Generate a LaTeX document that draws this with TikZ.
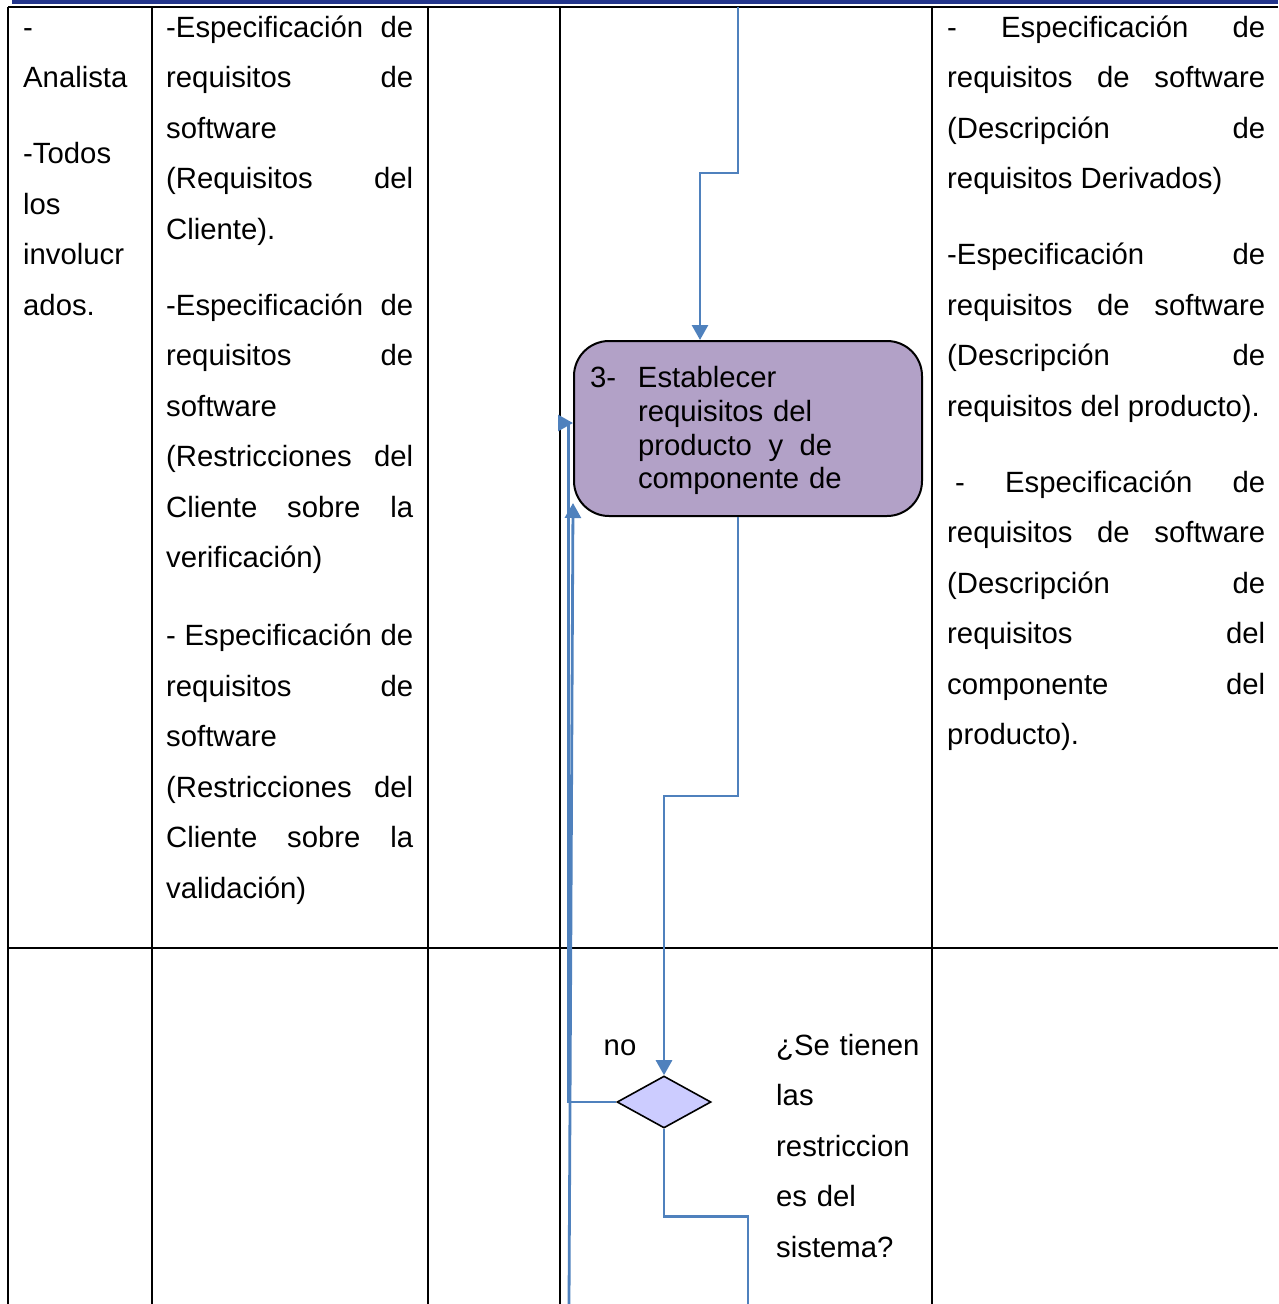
\documentclass[tikz,border=0pt]{standalone}
\usepackage{fontspec}
\setmainfont{Liberation Sans}
\usetikzlibrary{arrows.meta,shapes}

\definecolor{flowblue}{RGB}{79,129,189}
\definecolor{actfill}{RGB}{178,161,199}
\definecolor{decfill}{RGB}{204,204,255}
\definecolor{bandblue}{RGB}{36,54,140}

\newcommand\cellstart{\setlength{\parskip}{25.5pt}\setlength{\parindent}{0pt}\tolerance=10000\hbadness=10000\rule{0pt}{24pt}}

\begin{document}
\begin{tikzpicture}[x=1pt,y=-1pt,
			grid line/.style={draw=black,line width=2pt},
			flow line/.style={draw=flowblue,line width=2.8pt},
			flow arrow/.style={flow line,-{Triangle[width=16pt,length=15pt]}},
			cell text/.style={anchor=north west,inner sep=0pt,align=justify,font=\fontsize{29.3}{50.5}\selectfont},
			plain text/.style={inner sep=0pt,font=\fontsize{29.3}{50.5}\selectfont},
			activity node/.style={rectangle,rounded corners=35pt,draw,line width=2pt,fill=actfill,minimum width=348pt,minimum height=175pt,text width=316pt,inner xsep=16pt,align=left,font=\fontsize{29.3}{33.7}\selectfont},
			decision node/.style={diamond,draw,line width=1.6pt,fill=decfill,minimum width=94pt,minimum height=52pt,inner sep=0pt}
			]

			\useasboundingbox (0,0) rectangle (1278,1304);

			\fill[bandblue] (12,0) rectangle (1278,3.5);
			\draw[grid line] (8,7) -- (1278,7);
			\draw[grid line] (8,948) -- (1278,948);
			\foreach \x in {8,152,428,560,932} {
				\draw[grid line] (\x,7) -- (\x,1304);
			}

			\node[cell text,text width=114pt] (roles) at (23,13) {\cellstart -\newline Analista\par -Todos\newline los\newline involucr\newline ados.};

			\node[cell text,text width=247pt] (entradas) at (166,13) {\cellstart -Especificación de\linebreak requisitos de\linebreak software\newline (Requisitos del\linebreak Cliente).\par
				-Especificación de\linebreak requisitos de\linebreak software\newline (Restricciones del\linebreak Cliente sobre la\linebreak verificación)\par
				\vspace{2pt}- Especificación de\linebreak requisitos de\linebreak software\newline (Restricciones del\linebreak Cliente sobre la\linebreak validación)};

			\node[cell text,text width=318pt] (salidas) at (947,13) {\cellstart - Especificación de\linebreak requisitos de software\linebreak (Descripción de\linebreak requisitos Derivados)\par
				-Especificación de\linebreak requisitos de software\linebreak (Descripción de\linebreak requisitos del producto).\par
				\hspace*{8pt}- Especificación de\linebreak requisitos de software\linebreak (Descripción de\linebreak requisitos del\linebreak componente del\linebreak producto).};

			\node[activity node] (actividad) at (748,428.5) {\raisebox{-3pt}[\height][\depth]{\begin{tabular}{@{}p{48pt}@{}l@{}}3-&Establecer\\ &requisitos del\\ &producto\hspace{16.5pt}y\hspace{16.5pt}de\\ &componente de\end{tabular}}};

			\node[decision node] (decision) at (664,1102) {};
			\node[plain text,anchor=base] (no) at (620,1055) {no};
			\node[cell text,text width=150pt,align=left] (pregunta) at (776,1031) {\cellstart ¿Se tienen\newline las\newline restriccion\newline es del\newline sistema?};

			\coordinate (entrada) at (738,7);
			\coordinate (abajo) at (569,1304);
			\coordinate (salida) at (748,1304);

			\draw[flow arrow] (entrada) -- ++(0,166) -| ([xshift=-48pt]actividad.north);
			\draw[flow arrow] ([xshift=-10pt]actividad.south) -- ++(0,279) -| (decision.north);
			\draw[flow arrow] (decision.west) -- ++(-48,0) |- ([yshift=5.5pt]actividad.west);
			\draw[flow arrow] (abajo) -- ([yshift=-74.5pt]actividad.west);
			\draw[flow line] (decision.south) -- ++(0,88) -| (salida);
		\end{tikzpicture}
\end{document}
